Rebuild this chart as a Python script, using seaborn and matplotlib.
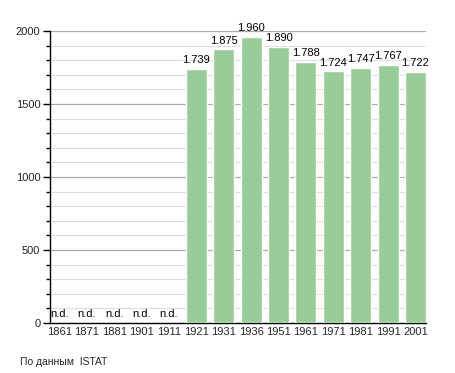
import matplotlib
matplotlib.use("Agg")
import matplotlib.pyplot as plt
import seaborn as sns
import pandas as pd
from matplotlib.ticker import MultipleLocator

years = ["1861", "1871", "1881", "1901", "1911", "1921", "1931", "1936",
         "1951", "1961", "1971", "1981", "1991", "2001"]
population = [None, None, None, None, None, 1739, 1875, 1960,
              1890, 1788, 1724, 1747, 1767, 1722]
value_labels = ["n.d.", "n.d.", "n.d.", "n.d.", "n.d.", "1.739", "1.875", "1.960",
                "1.890", "1.788", "1.724", "1.747", "1.767", "1.722"]

df = pd.DataFrame({"year": years, "pop": [p if p is not None else 0 for p in population]})

sns.set_style("white")
plt.rcParams['font.family'] = ['Liberation Sans', 'DejaVu Sans']

fig = plt.figure(figsize=(4.55, 3.73), dpi=100)
ax = fig.add_axes([0.110, 0.134, 0.826, 0.783])

sns.barplot(data=df, x="year", y="pop", color="#99cc99", saturation=1,
            width=0.77, ax=ax, zorder=3)

ax.set_ylim(0, 2000)
ax.set_xlim(-0.34, len(years) - 0.62)
ax.yaxis.set_major_locator(MultipleLocator(500))
ax.yaxis.set_minor_locator(MultipleLocator(100))
ax.grid(axis="y", which="major", color="#aaaaaa", linewidth=0.9, zorder=0)
ax.grid(axis="y", which="minor", color="#dddddd", linewidth=0.8, zorder=0)
ax.set_axisbelow(True)

for s in ["top", "right"]:
    ax.spines[s].set_visible(False)
for s in ["left", "bottom"]:
    ax.spines[s].set_color("black")
    ax.spines[s].set_linewidth(1.0)

ax.tick_params(axis="y", which="major", length=5, width=1, color="black",
               labelsize=8, left=True, pad=2)
ax.tick_params(axis="y", which="minor", length=3, width=1, color="black", left=True)
ax.tick_params(axis="x", length=0, labelsize=8, pad=3)
ax.set_xlabel("")
ax.set_ylabel("")

for i, (p, lab) in enumerate(zip(population, value_labels)):
    y = (p if p is not None else 0) + 25
    ax.text(i, y, lab, ha="center", va="bottom", fontsize=8, color="black", zorder=4)

fig.text(0.044, 0.015, "По данным  ISTAT", fontsize=7.5, ha="left", va="bottom")

fig.savefig("out.png", dpi=100)
